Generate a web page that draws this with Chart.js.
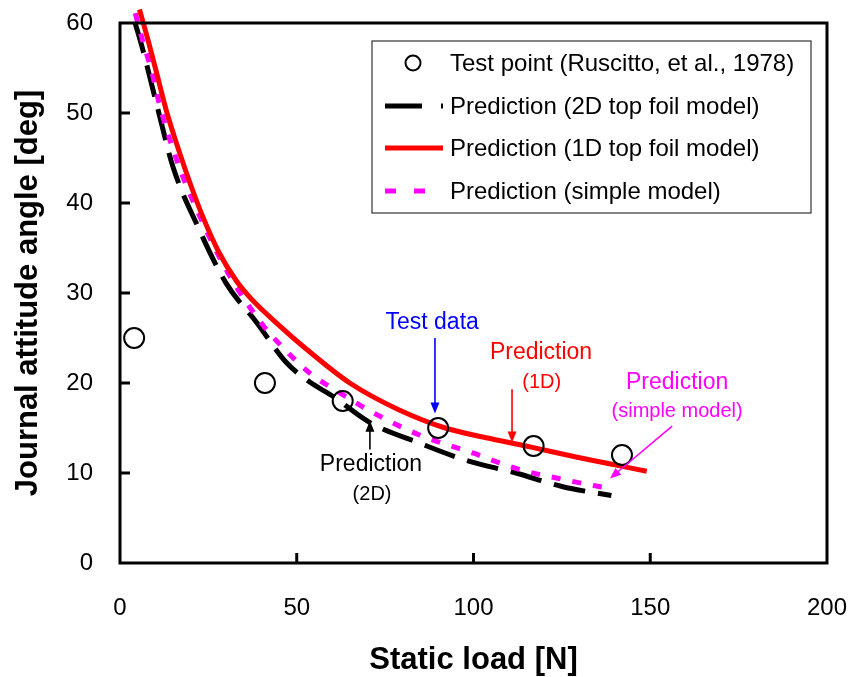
<!DOCTYPE html>
<html><head><meta charset="utf-8">
<script src="https://cdn.jsdelivr.net/npm/chart.js@4.4.0/dist/chart.umd.min.js"></script>
<style>html,body{margin:0;padding:0;background:#fff;} #wrap{width:854px;height:677px;}</style>
</head><body><div id="wrap"><canvas id="c" width="854" height="677"></canvas></div>
<script>
// ---- data ----
const loadTest = [4, 41, 63, 90, 117, 142];
const angleTest = [25, 20, 18, 15, 13, 12];

const load1D = [5.5, 8, 10, 13.3, 16.5, 20, 23.5, 28, 33, 37, 45, 52, 65, 79, 92, 105, 116, 130, 140, 149];
const angle1D = [61.5, 58, 55, 50, 46, 42, 38.4, 34.5, 31.3, 29.4, 26.4, 24, 20, 17, 15, 13.8, 12.9, 11.7, 10.9, 10.2];

const load2D = [4.2, 6.2, 10.8, 15, 22, 30, 38.7, 47, 53.7, 60.3, 70.7, 84.9, 98, 112, 125, 139];
const angle2D = [60.1, 57.4, 50.3, 44, 37.4, 31.1, 26.7, 22.3, 20.1, 18.5, 15.6, 13.3, 11.4, 10, 8.5, 7.5];

const loadSimple = [4.3, 6.5, 9, 11, 16, 22.6, 30.6, 40.5, 47.2, 53.7, 62.2, 71.6, 84.9, 100, 112, 126.4, 139.5];
const angleSimple = [61.1, 57.9, 54.6, 51.2, 44.8, 38.5, 32.2, 26.4, 23.5, 21.1, 18.9, 16.7, 14.2, 12.2, 10.5, 9.2, 8.2];

const xTicks = [0, 50, 100, 150, 200];
const yTicks = [0, 10, 20, 30, 40, 50, 60];

const seriesNames = ['Test point (Ruscitto, et al., 1978)', 'Prediction (2D top foil model)', 'Prediction (1D top foil model)', 'Prediction (simple model)'];

// annotation texts (data-coordinate anchors)
const noteTexts = [
  {text: 'Test data', x: 88.3, y: 26.7, color: '#0000ff', size: 23},
  {text: 'Prediction', x: 119.1, y: 23.4, color: '#ff0000', size: 23},
  {text: '(1D)', x: 119.3, y: 20.1, color: '#ff0000', size: 20},
  {text: 'Prediction', x: 157.6, y: 20.0, color: '#ff00ff', size: 23},
  {text: '(simple model)', x: 157.6, y: 16.8, color: '#ff00ff', size: 20},
  {text: 'Prediction', x: 71, y: 10.9, color: '#000000', size: 23},
  {text: '(2D)', x: 71.3, y: 7.6, color: '#000000', size: 20}
];
const noteArrows = [
  {x1: 89.1, y1: 25.0, x2: 89.1, y2: 16.6, color: '#0000ff'},
  {x1: 110.9, y1: 19.3, x2: 110.9, y2: 13.4, color: '#ff0000'},
  {x1: 156.2, y1: 15.2, x2: 138.6, y2: 9.4, color: '#ff00ff'},
  {x1: 70.7, y1: 12.6, x2: 70.7, y2: 15.8, color: '#000000'}
];

const FONT = "'Liberation Sans', Arial, sans-serif";
const toXY = (xs, ys) => xs.map((x, i) => ({x: x, y: ys[i]}));

const frameAndTicks = {
  id: 'frameAndTicks',
  afterDatasetsDraw(chart) {
    const {ctx, chartArea: ca, scales: {x, y}} = chart;
    ctx.save();
    ctx.strokeStyle = '#000';
    ctx.lineWidth = 3;
    ctx.beginPath();
    xTicks.slice(1, -1).forEach(v => {
      const px = x.getPixelForValue(v);
      ctx.moveTo(px, ca.bottom); ctx.lineTo(px, ca.bottom - 10);
    });
    yTicks.slice(1, -1).forEach(v => {
      const py = y.getPixelForValue(v);
      ctx.moveTo(ca.left, py); ctx.lineTo(ca.left + 10, py);
    });
    ctx.stroke();
    ctx.strokeRect(ca.left, ca.top, ca.right - ca.left, ca.bottom - ca.top);
    ctx.restore();
  }
};

function arrow(ctx, x1, y1, x2, y2, color) {
  const ang = Math.atan2(y2 - y1, x2 - x1);
  const L = 11, W = 4.5;
  ctx.save();
  ctx.strokeStyle = color; ctx.fillStyle = color; ctx.lineWidth = 1.6;
  ctx.beginPath();
  ctx.moveTo(x1, y1);
  ctx.lineTo(x2 - Math.cos(ang) * L * 0.8, y2 - Math.sin(ang) * L * 0.8);
  ctx.stroke();
  ctx.beginPath();
  ctx.moveTo(x2, y2);
  ctx.lineTo(x2 - Math.cos(ang) * L - Math.sin(ang) * W, y2 - Math.sin(ang) * L + Math.cos(ang) * W);
  ctx.lineTo(x2 - Math.cos(ang) * L + Math.sin(ang) * W, y2 - Math.sin(ang) * L - Math.cos(ang) * W);
  ctx.closePath();
  ctx.fill();
  ctx.restore();
}

const notes = {
  id: 'notes',
  afterDatasetsDraw(chart) {
    const {ctx, scales: {x, y}} = chart;
    ctx.save();
    ctx.textAlign = 'center';
    ctx.textBaseline = 'middle';
    noteTexts.forEach(n => {
      ctx.font = n.size + 'px ' + FONT;
      ctx.fillStyle = n.color;
      ctx.fillText(n.text, x.getPixelForValue(n.x), y.getPixelForValue(n.y));
    });
    ctx.restore();
    noteArrows.forEach(a => arrow(ctx, x.getPixelForValue(a.x1), y.getPixelForValue(a.y1),
      x.getPixelForValue(a.x2), y.getPixelForValue(a.y2), a.color));
  }
};

const boxLegend = {
  id: 'boxLegend',
  afterDraw(chart) {
    const {ctx, chartArea: ca} = chart;
    const bx = ca.left + 252, by = ca.top + 18, bw = 439, bh = 172;
    ctx.save();
    ctx.fillStyle = '#fff';
    ctx.fillRect(bx, by, bw, bh);
    ctx.strokeStyle = '#333';
    ctx.lineWidth = 1.2;
    ctx.strokeRect(bx, by, bw, bh);
    const rows = [by + 22, by + 65, by + 107, by + 150];
    const ds = chart.data.datasets;
    ctx.beginPath();
    ctx.lineWidth = 2; ctx.strokeStyle = '#000';
    ctx.arc(bx + 41, rows[0], 7.5, 0, Math.PI * 2);
    ctx.stroke();
    for (let i = 1; i < 4; i++) {
      const d = ds[i];
      ctx.beginPath();
      ctx.strokeStyle = d.borderColor; ctx.lineWidth = d.borderWidth;
      ctx.lineCap = 'butt';
      ctx.setLineDash(d.legendDash || []);
      ctx.moveTo(bx + 13, rows[i]); ctx.lineTo(bx + 71, rows[i]);
      ctx.stroke();
    }
    ctx.setLineDash([]);
    ctx.fillStyle = '#000';
    ctx.font = '24px ' + FONT;
    ctx.textAlign = 'left';
    ctx.textBaseline = 'middle';
    seriesNames.forEach((t, i) => ctx.fillText(t, bx + 78, rows[i] + 1));
    ctx.restore();
  }
};

new Chart(document.getElementById('c'), {
  type: 'scatter',
  data: {
    datasets: [
      {label: seriesNames[0], data: toXY(loadTest, angleTest), showLine: false,
       pointRadius: 10, pointBorderWidth: 2, pointBorderColor: '#000', pointBackgroundColor: 'rgba(0,0,0,0)',
       pointStyle: 'circle', order: 0, clip: false},
      {label: seriesNames[1], data: toXY(load2D, angle2D), showLine: true, borderColor: '#000',
       borderWidth: 5, borderDash: [32, 13], legendDash: [37, 19], pointRadius: 0, cubicInterpolationMode: 'monotone',
       order: 3, clip: false},
      {label: seriesNames[2], data: toXY(load1D, angle1D), showLine: true, borderColor: '#ff0000',
       borderWidth: 5, pointRadius: 0, cubicInterpolationMode: 'monotone', order: 1, clip: false},
      {label: seriesNames[3], data: toXY(loadSimple, angleSimple), showLine: true, borderColor: '#ff00ff',
       borderWidth: 5, borderDash: [9, 12], legendDash: [11, 18], pointRadius: 0, cubicInterpolationMode: 'monotone',
       order: 2, clip: false}
    ]
  },
  options: {
    responsive: false,
    animation: false,
    layout: {padding: {left: 0, top: 23, right: 27, bottom: 0}},
    plugins: {legend: {display: false}, tooltip: {enabled: false}},
    scales: {
      x: {
        type: 'linear', min: 0, max: 200,
        afterBuildTicks: s => { s.ticks = xTicks.map(v => ({value: v})); },
        afterFit: s => { s.height = 114; s.paddingLeft = 0; s.paddingRight = 0; },
        grid: {display: false, drawTicks: false},
        border: {display: false},
        ticks: {color: '#000', font: {family: FONT, size: 24}, padding: 31, maxRotation: 0},
        title: {display: true, text: 'Static load [N]', color: '#000',
          font: {family: FONT, size: 31, weight: 'bold'}, padding: {top: 0, bottom: -2}}
      },
      y: {
        type: 'linear', min: 0, max: 60,
        afterBuildTicks: s => { s.ticks = yTicks.map(v => ({value: v})); },
        afterFit: s => { s.width = 120; s.paddingTop = 0; s.paddingBottom = 0; },
        grid: {display: false, drawTicks: false},
        border: {display: false},
        ticks: {color: '#000', font: {family: FONT, size: 24}, padding: 27},
        title: {display: true, text: 'Journal attitude angle [deg]', color: '#000',
          font: {family: FONT, size: 31, weight: 'bold'}, padding: {top: 10, bottom: 0}}
      }
    }
  },
  plugins: [frameAndTicks, notes, boxLegend]
});
</script>
</body></html>
